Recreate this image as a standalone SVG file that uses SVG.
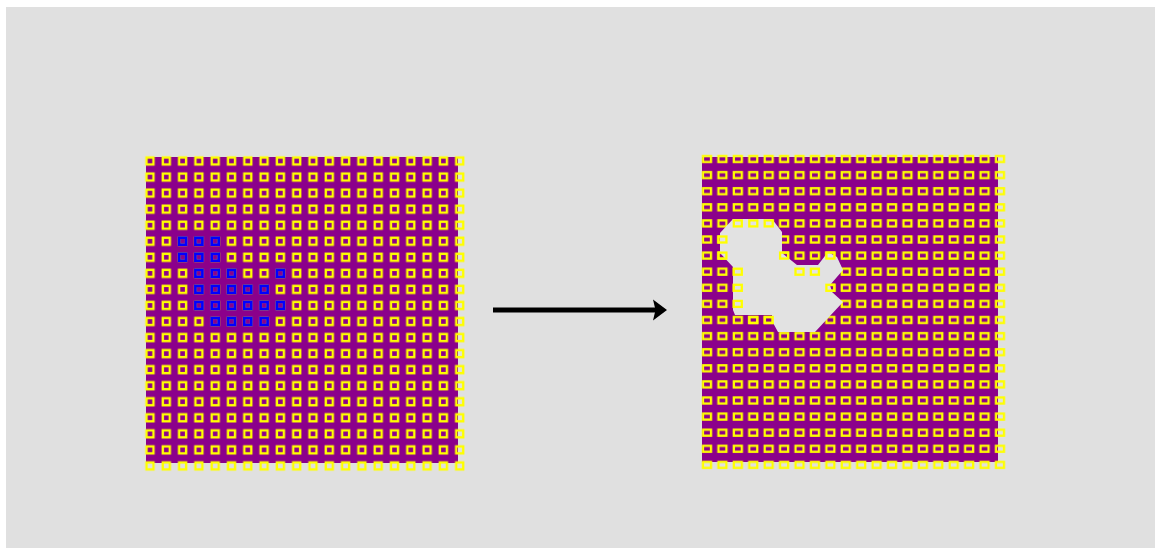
<svg xmlns="http://www.w3.org/2000/svg" width="1155" height="551" viewBox="0 0 1155 551">
<style>
.bg{fill:#e0e0e0}
.panel{fill:#8b008b}
.sq{fill:none;stroke:#ffff00;stroke-width:2.4}
.bl{fill:none;stroke:#0000ff;stroke-width:2.7}
.rq{fill:none;stroke:#ffff00;stroke-width:2.3}
.hole{fill:#e2e2e2}
.arrow{stroke:#000;stroke-width:5;fill:none}
</style>
<defs>
<pattern id="gridL" patternUnits="userSpaceOnUse" x="141.85" y="152.975" width="16.3" height="16.05">
<rect class="sq" x="4.65" y="4.525" width="7" height="7"/>
</pattern>
<pattern id="gridR" patternUnits="userSpaceOnUse" x="699.29" y="150.95" width="15.42" height="16.1">
<rect class="rq" x="3.71" y="5.05" width="8" height="6"/>
</pattern>
<rect id="b" class="bl" x="-3.5" y="-3.5" width="7" height="7"/>
<rect id="y" class="rq" x="-4" y="-3" width="8" height="6"/>
</defs>
<rect width="1155" height="551" fill="#ffffff"/>
<rect class="bg" x="6" y="7" width="1149" height="541"/>

<g id="grid-before">
<rect class="panel" x="146" y="157" width="312" height="306"/>
<rect x="144" y="155" width="322" height="317" fill="url(#gridL)"/>
<g id="blue-cells">
<use href="#b" x="182.6" y="241.25"/><use href="#b" x="198.9" y="241.25"/><use href="#b" x="215.2" y="241.25"/>
<use href="#b" x="182.6" y="257.3"/><use href="#b" x="198.9" y="257.3"/><use href="#b" x="215.2" y="257.3"/>
<use href="#b" x="198.9" y="273.35"/><use href="#b" x="215.2" y="273.35"/><use href="#b" x="231.5" y="273.35"/><use href="#b" x="280.4" y="273.35"/>
<use href="#b" x="198.9" y="289.4"/><use href="#b" x="215.2" y="289.4"/><use href="#b" x="231.5" y="289.4"/><use href="#b" x="247.8" y="289.4"/><use href="#b" x="264.1" y="289.4"/>
<use href="#b" x="198.9" y="305.45"/><use href="#b" x="215.2" y="305.45"/><use href="#b" x="231.5" y="305.45"/><use href="#b" x="247.8" y="305.45"/><use href="#b" x="264.1" y="305.45"/><use href="#b" x="280.4" y="305.45"/>
<use href="#b" x="215.2" y="321.5"/><use href="#b" x="231.5" y="321.5"/><use href="#b" x="247.8" y="321.5"/><use href="#b" x="264.1" y="321.5"/>
</g>
</g>

<g id="grid-after">
<rect class="panel" x="702" y="157" width="296" height="305"/>
<rect x="700" y="153" width="306" height="318" fill="url(#gridR)"/>
<polygon class="hole" points="733,219 772,219 782,232 782,253 797,265 818,265 828,252 837,257 843,270 830,285 832,292 843,302 815,332 778,332 772,321 772,315 735,315 733,310 733,267 720,253 720,233"/>
<g id="edge-cells">
<use href="#y" x="737.8" y="223.4"/><use href="#y" x="753.3" y="223.4"/><use href="#y" x="768.7" y="223.4"/>
<use href="#y" x="722.4" y="239.5"/>
<use href="#y" x="722.4" y="255.6"/><use href="#y" x="784.1" y="255.6"/><use href="#y" x="830.4" y="255.6"/>
<use href="#y" x="737.8" y="271.7"/><use href="#y" x="799.5" y="271.7"/><use href="#y" x="814.9" y="271.7"/>
<use href="#y" x="737.8" y="287.8"/><use href="#y" x="830.4" y="287.8"/>
<use href="#y" x="737.8" y="303.9"/>
<use href="#y" x="753.3" y="320"/><use href="#y" x="768.7" y="320"/>
</g>
</g>

<g id="connectors">
<line class="arrow" x1="493" y1="310" x2="656" y2="310"/>
<polygon points="653,299.5 667,310 653,320.5 655.5,310" fill="#000"/>
</g>
</svg>
